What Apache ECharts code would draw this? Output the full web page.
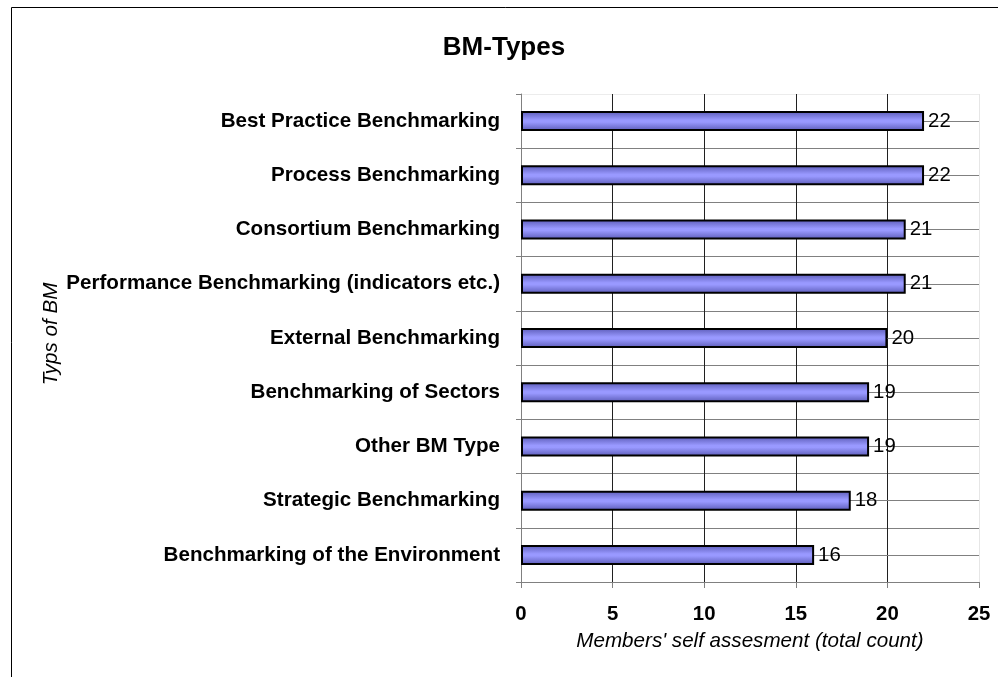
<!DOCTYPE html>
<html>
<head>
<meta charset="utf-8">
<script src="https://cdn.jsdelivr.net/npm/echarts@6/dist/echarts.min.js"></script>
<style>
html,body{margin:0;padding:0;background:#fff;}
#chart{width:998px;height:677px;}
</style>
</head>
<body>
<div id="chart"></div>
<script>
var titleText = 'BM-Types';
var xAxisTitle = "Members' self assesment (total count)";
var yAxisTitle = 'Typs of BM';
var categories = [
  'Best Practice Benchmarking',
  'Process Benchmarking',
  'Consortium Benchmarking',
  'Performance Benchmarking (indicators etc.)',
  'External Benchmarking',
  'Benchmarking of Sectors',
  'Other BM Type',
  'Strategic Benchmarking',
  'Benchmarking of the Environment'
];
var values = [22, 22, 21, 21, 20, 19, 19, 18, 16];
var xMin = 0, xMax = 25, xStep = 5;

var FONT = "'Liberation Sans', Arial, sans-serif";

var ySplitColors = categories.map(function(){ return '#808080'; });
ySplitColors.unshift('#ececec');
var xSplitColors = ['#808080', '#202020', '#202020', '#202020', '#202020', '#e6e6e6'];

var chart = echarts.init(document.getElementById('chart'));
chart.setOption({
  animation: false,
  backgroundColor: '#ffffff',
  title: {
    text: titleText,
    left: 499,
    top: 30,
    textAlign: 'center',
    textStyle: {fontFamily: FONT, fontWeight: 'bold', fontSize: 26, color: '#000'}
  },
  grid: {left: 521, right: 19, top: 94, bottom: 95, containLabel: false},
  xAxis: {
    type: 'value',
    min: xMin, max: xMax, interval: xStep,
    name: xAxisTitle,
    nameLocation: 'middle',
    nameGap: 49,
    nameTextStyle: {fontFamily: FONT, fontStyle: 'italic', fontSize: 20.6, color: '#000'},
    axisLine: {show: true, lineStyle: {color: '#808080', width: 1}},
    axisTick: {show: true, length: 6, lineStyle: {color: '#808080'}},
    axisLabel: {margin: 22, fontFamily: FONT, fontWeight: 'bold', fontSize: 20.4, color: '#000'},
    splitLine: {show: true, lineStyle: {color: xSplitColors, width: 1}}
  },
  yAxis: {
    type: 'category',
    inverse: true,
    data: categories,
    axisLine: {show: true, lineStyle: {color: '#808080', width: 1}},
    axisTick: {show: true, length: 5, lineStyle: {color: '#808080'}},
    axisLabel: {margin: 21, fontFamily: FONT, fontWeight: 'bold', fontSize: 20.6, color: '#000'},
    splitLine: {show: true, lineStyle: {color: ySplitColors, width: 1}}
  },
  series: [{
    type: 'bar',
    data: values,
    barWidth: 20,
    z: 2,
    itemStyle: {
      color: new echarts.graphic.LinearGradient(0, 0, 0, 1, [
        {offset: 0, color: '#5a5ab6'},
        {offset: 0.45, color: '#9999ff'},
        {offset: 0.55, color: '#9999ff'},
        {offset: 1, color: '#5a5ab6'}
      ]),
      borderColor: '#000000',
      borderWidth: 2
    },
    label: {
      show: true,
      position: 'right',
      distance: 4,
      fontFamily: FONT,
      fontSize: 20.4,
      color: '#000'
    },
    markLine: {
      silent: true,
      z: 1,
      symbol: 'none',
      label: {show: false},
      lineStyle: {type: 'solid', color: '#808080', width: 1},
      data: categories.map(function(c){ return {yAxis: c}; })
    }
  }],
  graphic: [
    {
      type: 'rect',
      shape: {x: 11.5, y: 7.5, width: 1000, height: 700},
      style: {fill: 'none', stroke: '#000', lineWidth: 1},
      silent: true
    },
    {
      type: 'text',
      x: 51,
      y: 334,
      rotation: Math.PI / 2,
      style: {
        text: yAxisTitle,
        font: 'italic 20.6px ' + FONT,
        fill: '#000',
        textAlign: 'center',
        textVerticalAlign: 'middle'
      }
    }
  ]
});
</script>
</body>
</html>
